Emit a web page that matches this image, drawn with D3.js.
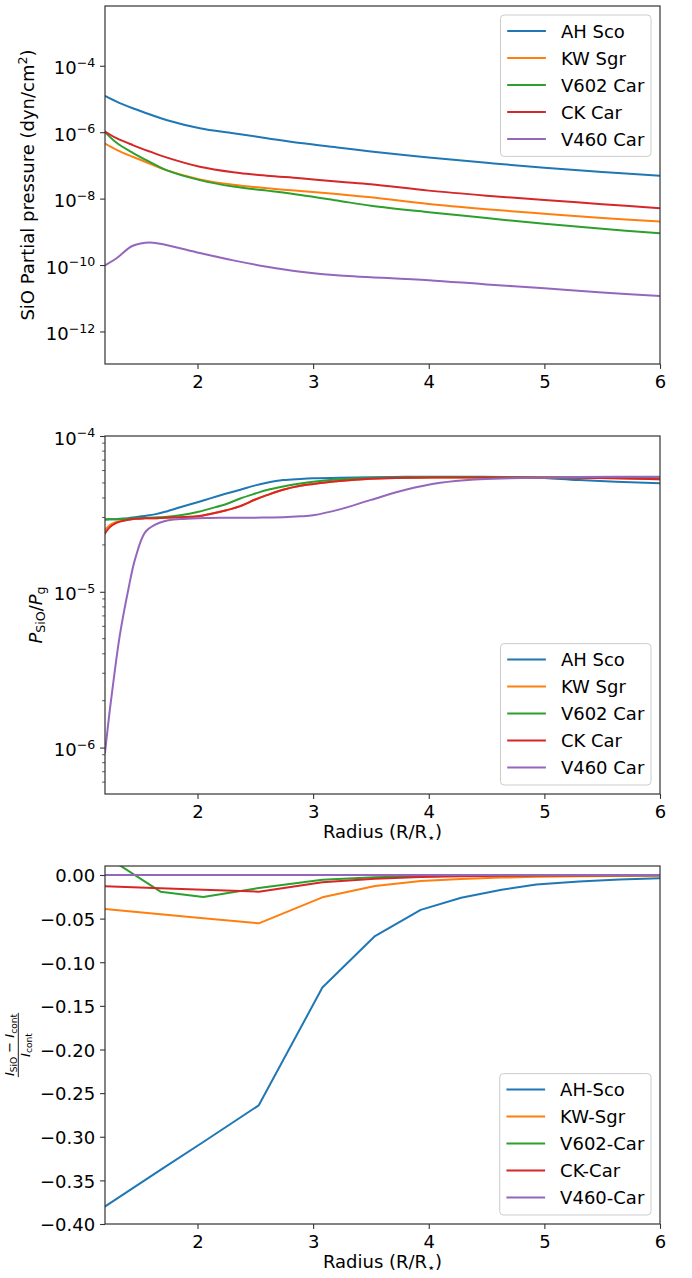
<!DOCTYPE html>
<html>
<head>
<meta charset="utf-8">
<script src="https://cdn.jsdelivr.net/npm/d3@7"></script>
<style>
  html, body { margin: 0; padding: 0; background: #fff; }
  svg { display: block; font-family: "DejaVu Sans", sans-serif; }
</style>
</head>
<body>
<svg id="fig" width="692" height="1278"></svg>
<script>
// ---------------- data ----------------
const stars       = ["AH Sco", "KW Sgr", "V602 Car", "CK Car", "V460 Car"];
const starsHyphen = ["AH-Sco", "KW-Sgr", "V602-Car", "CK-Car", "V460-Car"];
const palette     = ["#1f77b4", "#ff7f0e", "#2ca02c", "#d62728", "#9467bd"];

// SiO partial pressure (dyn/cm^2) vs radius (R/R*)
const pressureRadius  = [1.2, 1.3, 1.44, 1.59, 1.73, 2.02, 2.31, 2.6, 2.89, 3.23, 3.5, 4.0, 4.5, 5.0, 5.5, 6.0];
const pressureAHSco   = [1.23e-5, 8.3e-6, 5.25e-6, 3.4e-6, 2.34e-6, 1.32e-6, 9.3e-7, 6.6e-7, 4.7e-7, 3.4e-7, 2.63e-7, 1.74e-7, 1.2e-7, 8.5e-8, 6.3e-8, 4.9e-8];
const pressureKWSgr   = [4.5e-7, 2.95e-7, 1.82e-7, 1.12e-7, 7.2e-8, 3.8e-8, 2.6e-8, 2.05e-8, 1.7e-8, 1.35e-8, 1.1e-8, 6.9e-9, 4.8e-9, 3.5e-9, 2.6e-9, 2.05e-9];
const pressureV602Car = [1.0e-6, 4.8e-7, 2.4e-7, 1.26e-7, 7.2e-8, 3.6e-8, 2.3e-8, 1.74e-8, 1.29e-8, 8.5e-9, 6.1e-9, 3.9e-9, 2.6e-9, 1.74e-9, 1.23e-9, 9.1e-10];
const pressureCKCar   = [1.05e-6, 6.6e-7, 4.1e-7, 2.6e-7, 1.74e-7, 9.1e-8, 6.2e-8, 4.9e-8, 4.1e-8, 3.2e-8, 2.69e-8, 1.74e-8, 1.23e-8, 9.1e-9, 6.8e-9, 5.1e-9];
const pressureV460Car = [9.8e-11, 1.6e-10, 3.8e-10, 4.8e-10, 4.0e-10, 2.3e-10, 1.38e-10, 8.9e-11, 6.3e-11, 4.8e-11, 4.3e-11, 3.5e-11, 2.6e-11, 2.0e-11, 1.5e-11, 1.17e-11];

// P_SiO / P_g vs radius
const ratioRadius  = [1.2, 1.243, 1.286, 1.33, 1.40, 1.46, 1.545, 1.63, 1.72, 1.85, 2.0, 2.11, 2.25, 2.37, 2.5, 2.6, 2.74, 2.89, 3.0, 3.23, 3.5, 3.8, 4.1, 4.4, 4.7, 5.0, 5.3, 6.0];
const ratioAHSco   = [2.91e-5, 2.92e-5, 2.92e-5, 2.94e-5, 2.97e-5, 3.01e-5, 3.07e-5, 3.14e-5, 3.26e-5, 3.49e-5, 3.76e-5, 3.98e-5, 4.27e-5, 4.52e-5, 4.82e-5, 5.01e-5, 5.21e-5, 5.30e-5, 5.35e-5, 5.40e-5, 5.43e-5, 5.47e-5, 5.48e-5, 5.48e-5, 5.46e-5, 5.37e-5, 5.21e-5, 4.97e-5];
const ratioKWSgr   = [2.49e-5, 2.68e-5, 2.79e-5, 2.85e-5, 2.90e-5, 2.94e-5, 2.96e-5, 2.97e-5, 2.99e-5, 3.01e-5, 3.05e-5, 3.16e-5, 3.34e-5, 3.55e-5, 3.91e-5, 4.17e-5, 4.52e-5, 4.79e-5, 4.92e-5, 5.14e-5, 5.31e-5, 5.40e-5, 5.42e-5, 5.42e-5, 5.42e-5, 5.41e-5, 5.40e-5, 5.28e-5];
const ratioV602Car = [2.91e-5, 2.92e-5, 2.92e-5, 2.93e-5, 2.94e-5, 2.96e-5, 2.98e-5, 3.00e-5, 3.02e-5, 3.10e-5, 3.25e-5, 3.42e-5, 3.66e-5, 3.97e-5, 4.27e-5, 4.50e-5, 4.74e-5, 4.95e-5, 5.08e-5, 5.27e-5, 5.37e-5, 5.42e-5, 5.45e-5, 5.45e-5, 5.43e-5, 5.42e-5, 5.42e-5, 5.42e-5];
const ratioCKCar   = [2.37e-5, 2.60e-5, 2.74e-5, 2.82e-5, 2.90e-5, 2.94e-5, 2.96e-5, 2.97e-5, 2.99e-5, 3.01e-5, 3.05e-5, 3.16e-5, 3.34e-5, 3.55e-5, 3.91e-5, 4.17e-5, 4.52e-5, 4.79e-5, 4.92e-5, 5.14e-5, 5.31e-5, 5.40e-5, 5.42e-5, 5.42e-5, 5.42e-5, 5.41e-5, 5.40e-5, 5.28e-5];
const ratioV460Car = [9.3e-7, 1.78e-6, 3.16e-6, 5.37e-6, 1.02e-5, 1.62e-5, 2.40e-5, 2.69e-5, 2.85e-5, 2.93e-5, 2.97e-5, 2.98e-5, 2.99e-5, 2.99e-5, 2.99e-5, 3.00e-5, 3.01e-5, 3.05e-5, 3.10e-5, 3.38e-5, 3.89e-5, 4.52e-5, 5.01e-5, 5.26e-5, 5.35e-5, 5.40e-5, 5.46e-5, 5.48e-5];

// (I_SiO - I_cont) / I_cont vs radius
const depthRadius  = [1.2, 1.68, 2.05, 2.53, 3.08, 3.535, 3.93, 4.28, 4.63, 4.93, 5.3, 5.65, 6.0];
const depthAHSco   = [-0.380, -0.338, -0.306, -0.264, -0.129, -0.070, -0.040, -0.026, -0.017, -0.011, -0.0075, -0.0052, -0.0038];
const depthKWSgr   = [-0.039, -0.0449, -0.0495, -0.0554, -0.0256, -0.0126, -0.0069, -0.0045, -0.0030, -0.0021, -0.0015, -0.0011, -0.0008];
const depthV602Car = [0.022, -0.0191, -0.0252, -0.0150, -0.0055, -0.0027, -0.0014, -0.0009, -0.0006, -0.0004, -0.0003, -0.0002, -0.0002];
const depthCKCar   = [-0.0130, -0.0152, -0.0169, -0.0191, -0.0084, -0.0042, -0.0023, -0.0015, -0.0010, -0.0007, -0.0005, -0.0004, -0.0003];
const depthV460Car = [0, 0, 0, 0, 0, 0, 0, 0, 0, 0, 0, 0, 0];

// tick values
const radiusTicks   = [2, 3, 4, 5, 6];
const pressureTicks = [1e-4, 1e-6, 1e-8, 1e-10, 1e-12];
const ratioTicks    = [1e-4, 1e-5, 1e-6];
const depthTicks    = [0, -0.05, -0.10, -0.15, -0.20, -0.25, -0.30, -0.35, -0.40];

// ---------------- layout ----------------
const svg = d3.select("#fig");
const FONT = 18;
const X0 = 105, X1 = 660;
const MAJOR = 4.9, MINOR = 2.8;
const AXIS_COLOR = "#333";

const x = d3.scaleLinear().domain([1.2, 6]).range([X0, X1]);

const panels = [
  { id: "pressure", top: 6,   bottom: 364 },
  { id: "ratio",    top: 436, bottom: 794 },
  { id: "depth",    top: 866, bottom: 1224 }
];

const yPressure = d3.scaleLog().domain([Math.pow(10, -12.98), Math.pow(10, -2.2)]).range([364, 6]);
const yRatio    = d3.scaleLog().domain([Math.pow(10, -6.298), 1e-4]).range([794, 436]);
const yDepth    = d3.scaleLinear().domain([-0.40, 0.0103]).range([1224, 866]);

// writes text made of runs with optional size, italics and vertical shift
function richText(sel, parts) {
  let shift = 0;
  parts.forEach(p => {
    const target = p.shift || 0;
    const ts = sel.append("tspan").text(p.t).attr("dy", target - shift);
    shift = target;
    if (p.size) ts.attr("font-size", p.size);
    if (p.italic) ts.attr("font-style", "italic");
  });
}

function styleAxis(g) {
  g.select(".domain").remove();
  g.attr("font-family", null).attr("font-size", null);
  g.selectAll(".tick line").attr("stroke", AXIS_COLOR).attr("stroke-width", 1.1);
  g.selectAll(".tick text").attr("fill", "#000").attr("font-size", FONT);
}

function drawXAxis(p, withLabel) {
  const g = svg.append("g").attr("transform", `translate(0,${p.bottom})`)
    .call(d3.axisBottom(x).tickValues(radiusTicks).tickSize(MAJOR).tickPadding(6.3).tickSizeOuter(0).tickFormat(d3.format("d")));
  styleAxis(g);
  if (withLabel) {
    const t = svg.append("text").attr("x", (X0 + X1) / 2).attr("y", p.bottom + 44)
      .attr("text-anchor", "middle").attr("font-size", FONT);
    richText(t, [{ t: "Radius (R/R" }, { t: "⋆", size: 12.6, shift: 3.5 }, { t: ")" }]);
  }
}

function drawPowerAxis(scale, ticks) {
  const g = svg.append("g").attr("transform", `translate(${X0},0)`)
    .call(d3.axisLeft(scale).tickValues(ticks).tickSize(MAJOR).tickSizeOuter(0).tickFormat(""));
  styleAxis(g);
  g.selectAll(".tick text").remove();
  g.selectAll(".tick").append("text")
    .attr("x", -(MAJOR + 4.9)).attr("y", 8).attr("text-anchor", "end")
    .attr("font-size", FONT).attr("fill", "#000")
    .each(function (d) {
      const e = Math.round(Math.log10(d));
      richText(d3.select(this), [{ t: "10" }, { t: (e < 0 ? "−" : "") + Math.abs(e), size: 12.6, shift: -7.3 }]);
    });
  return g;
}

function spines(p) {
  svg.append("rect").attr("x", X0).attr("y", p.top).attr("width", X1 - X0).attr("height", p.bottom - p.top)
    .attr("fill", "none").attr("stroke", AXIS_COLOR).attr("stroke-width", 1.2);
}

function clip(p) {
  svg.append("clipPath").attr("id", "clip-" + p.id)
    .append("rect").attr("x", X0).attr("y", p.top).attr("width", X1 - X0).attr("height", p.bottom - p.top);
  return svg.append("g").attr("clip-path", `url(#clip-${p.id})`);
}

function drawSeries(g, radius, seriesList, y, curve) {
  const line = d3.line().x(d => x(d[0])).y(d => y(d[1])).curve(curve);
  seriesList.forEach((vals, i) => {
    g.append("path").datum(radius.map((r, k) => [r, vals[k]]))
      .attr("d", line).attr("fill", "none").attr("stroke", palette[i])
      .attr("stroke-width", 2).attr("stroke-linejoin", "round").attr("stroke-linecap", "square");
  });
}

function legend(labels, right, top, bottom) {
  const rowGap = 27, padTop = 16, padBottom = 17.4;
  const lineStart = 6.7, lineEnd = 45.4, textStart = 60.4, padRight = 6.7;
  const h = padTop + rowGap * (labels.length - 1) + padBottom;
  const y0 = top != null ? top : bottom - h;
  const lg = svg.append("g");
  const rect = lg.append("rect").attr("rx", 3.6).attr("ry", 3.6)
    .attr("fill", "#fff").attr("fill-opacity", 0.8).attr("stroke", "#cccccc").attr("stroke-width", 1);
  let maxW = 0;
  labels.forEach((lab, i) => {
    const yy = padTop + i * rowGap;
    lg.append("line").attr("x1", lineStart).attr("x2", lineEnd).attr("y1", yy).attr("y2", yy)
      .attr("stroke", palette[i]).attr("stroke-width", 2);
    const t = lg.append("text").attr("x", textStart).attr("y", yy + 6.6).attr("font-size", FONT).text(lab);
    maxW = Math.max(maxW, t.node().getComputedTextLength());
  });
  const w = textStart + maxW + padRight;
  rect.attr("x", 0).attr("y", 0).attr("width", w).attr("height", h);
  lg.attr("transform", `translate(${right - w},${y0})`);
}

const smooth = d3.curveCatmullRom.alpha(0.5);

// ---------------- panel 1: SiO partial pressure ----------------
{
  const p = panels[0];
  const g = clip(p);
  drawSeries(g, pressureRadius,
    [pressureAHSco, pressureKWSgr, pressureV602Car, pressureCKCar, pressureV460Car],
    yPressure, smooth);
  drawPowerAxis(yPressure, pressureTicks);
  drawXAxis(p, false);
  spines(p);
  const t = svg.append("text").attr("transform", `translate(34,${(p.top + p.bottom) / 2}) rotate(-90)`)
    .attr("text-anchor", "middle").attr("font-size", FONT);
  richText(t, [{ t: "SiO Partial pressure (dyn/cm" }, { t: "2", size: 12.6, shift: -7.3 }, { t: ")" }]);
  legend(stars, X1 - 9, p.top + 9, null);
}

// ---------------- panel 2: P_SiO / P_g ----------------
{
  const p = panels[1];
  const g = clip(p);
  drawSeries(g, ratioRadius,
    [ratioAHSco, ratioKWSgr, ratioV602Car, ratioCKCar, ratioV460Car],
    yRatio, smooth);
  // minor ticks on the log axis
  const [lo, hi] = yRatio.domain();
  const minor = yRatio.ticks().filter(v => v >= lo && v <= hi && !ratioTicks.some(m => Math.abs(m - v) / m < 1e-6));
  svg.append("g").selectAll("line").data(minor).join("line")
    .attr("x1", X0).attr("x2", X0 - MINOR).attr("y1", d => yRatio(d)).attr("y2", d => yRatio(d))
    .attr("stroke", AXIS_COLOR).attr("stroke-width", 0.85);
  drawPowerAxis(yRatio, ratioTicks);
  drawXAxis(p, true);
  spines(p);
  const t = svg.append("text").attr("transform", `translate(41.5,${(p.top + p.bottom) / 2}) rotate(-90)`)
    .attr("text-anchor", "middle").attr("font-size", FONT);
  richText(t, [{ t: "P", italic: true }, { t: "SiO", size: 12.6, shift: 3.6 }, { t: "/" },
               { t: "P", italic: true }, { t: "g", size: 12.6, shift: 3.6 }]);
  legend(stars, X1 - 9, null, p.bottom - 9);
}

// ---------------- panel 3: relative line depth ----------------
{
  const p = panels[2];
  const g = clip(p);
  drawSeries(g, depthRadius,
    [depthAHSco, depthKWSgr, depthV602Car, depthCKCar, depthV460Car],
    yDepth, d3.curveLinear);
  const ga = svg.append("g").attr("transform", `translate(${X0},0)`)
    .call(d3.axisLeft(yDepth).tickValues(depthTicks).tickSize(MAJOR).tickPadding(4.9).tickSizeOuter(0).tickFormat(d3.format(".2f")));
  styleAxis(ga);
  ga.selectAll(".tick text").attr("dy", null).attr("y", 6.8);
  drawXAxis(p, true);
  spines(p);
  // fraction label
  const fg = svg.append("g").attr("transform", `translate(18.3,${(p.top + p.bottom) / 2}) rotate(-90)`)
    .attr("font-size", 13);
  const num = fg.append("text").attr("x", 0).attr("y", -4.3).attr("text-anchor", "middle");
  richText(num, [{ t: "I", italic: true }, { t: "SiO", size: 9.1, shift: 2.6 }, { t: " − " },
                 { t: "I", italic: true }, { t: "cont", size: 9.1, shift: 2.6 }]);
  const den = fg.append("text").attr("x", 0).attr("y", 11.5).attr("text-anchor", "middle");
  richText(den, [{ t: "I", italic: true }, { t: "cont", size: 9.1, shift: 2.6 }]);
  const bw = num.node().getComputedTextLength() / 2 + 1;
  fg.append("line").attr("x1", -bw).attr("x2", bw).attr("y1", 0).attr("y2", 0)
    .attr("stroke", "#000").attr("stroke-width", 0.9);
  legend(starsHyphen, X1 - 9, null, p.bottom - 9);
}
</script>
</body>
</html>
